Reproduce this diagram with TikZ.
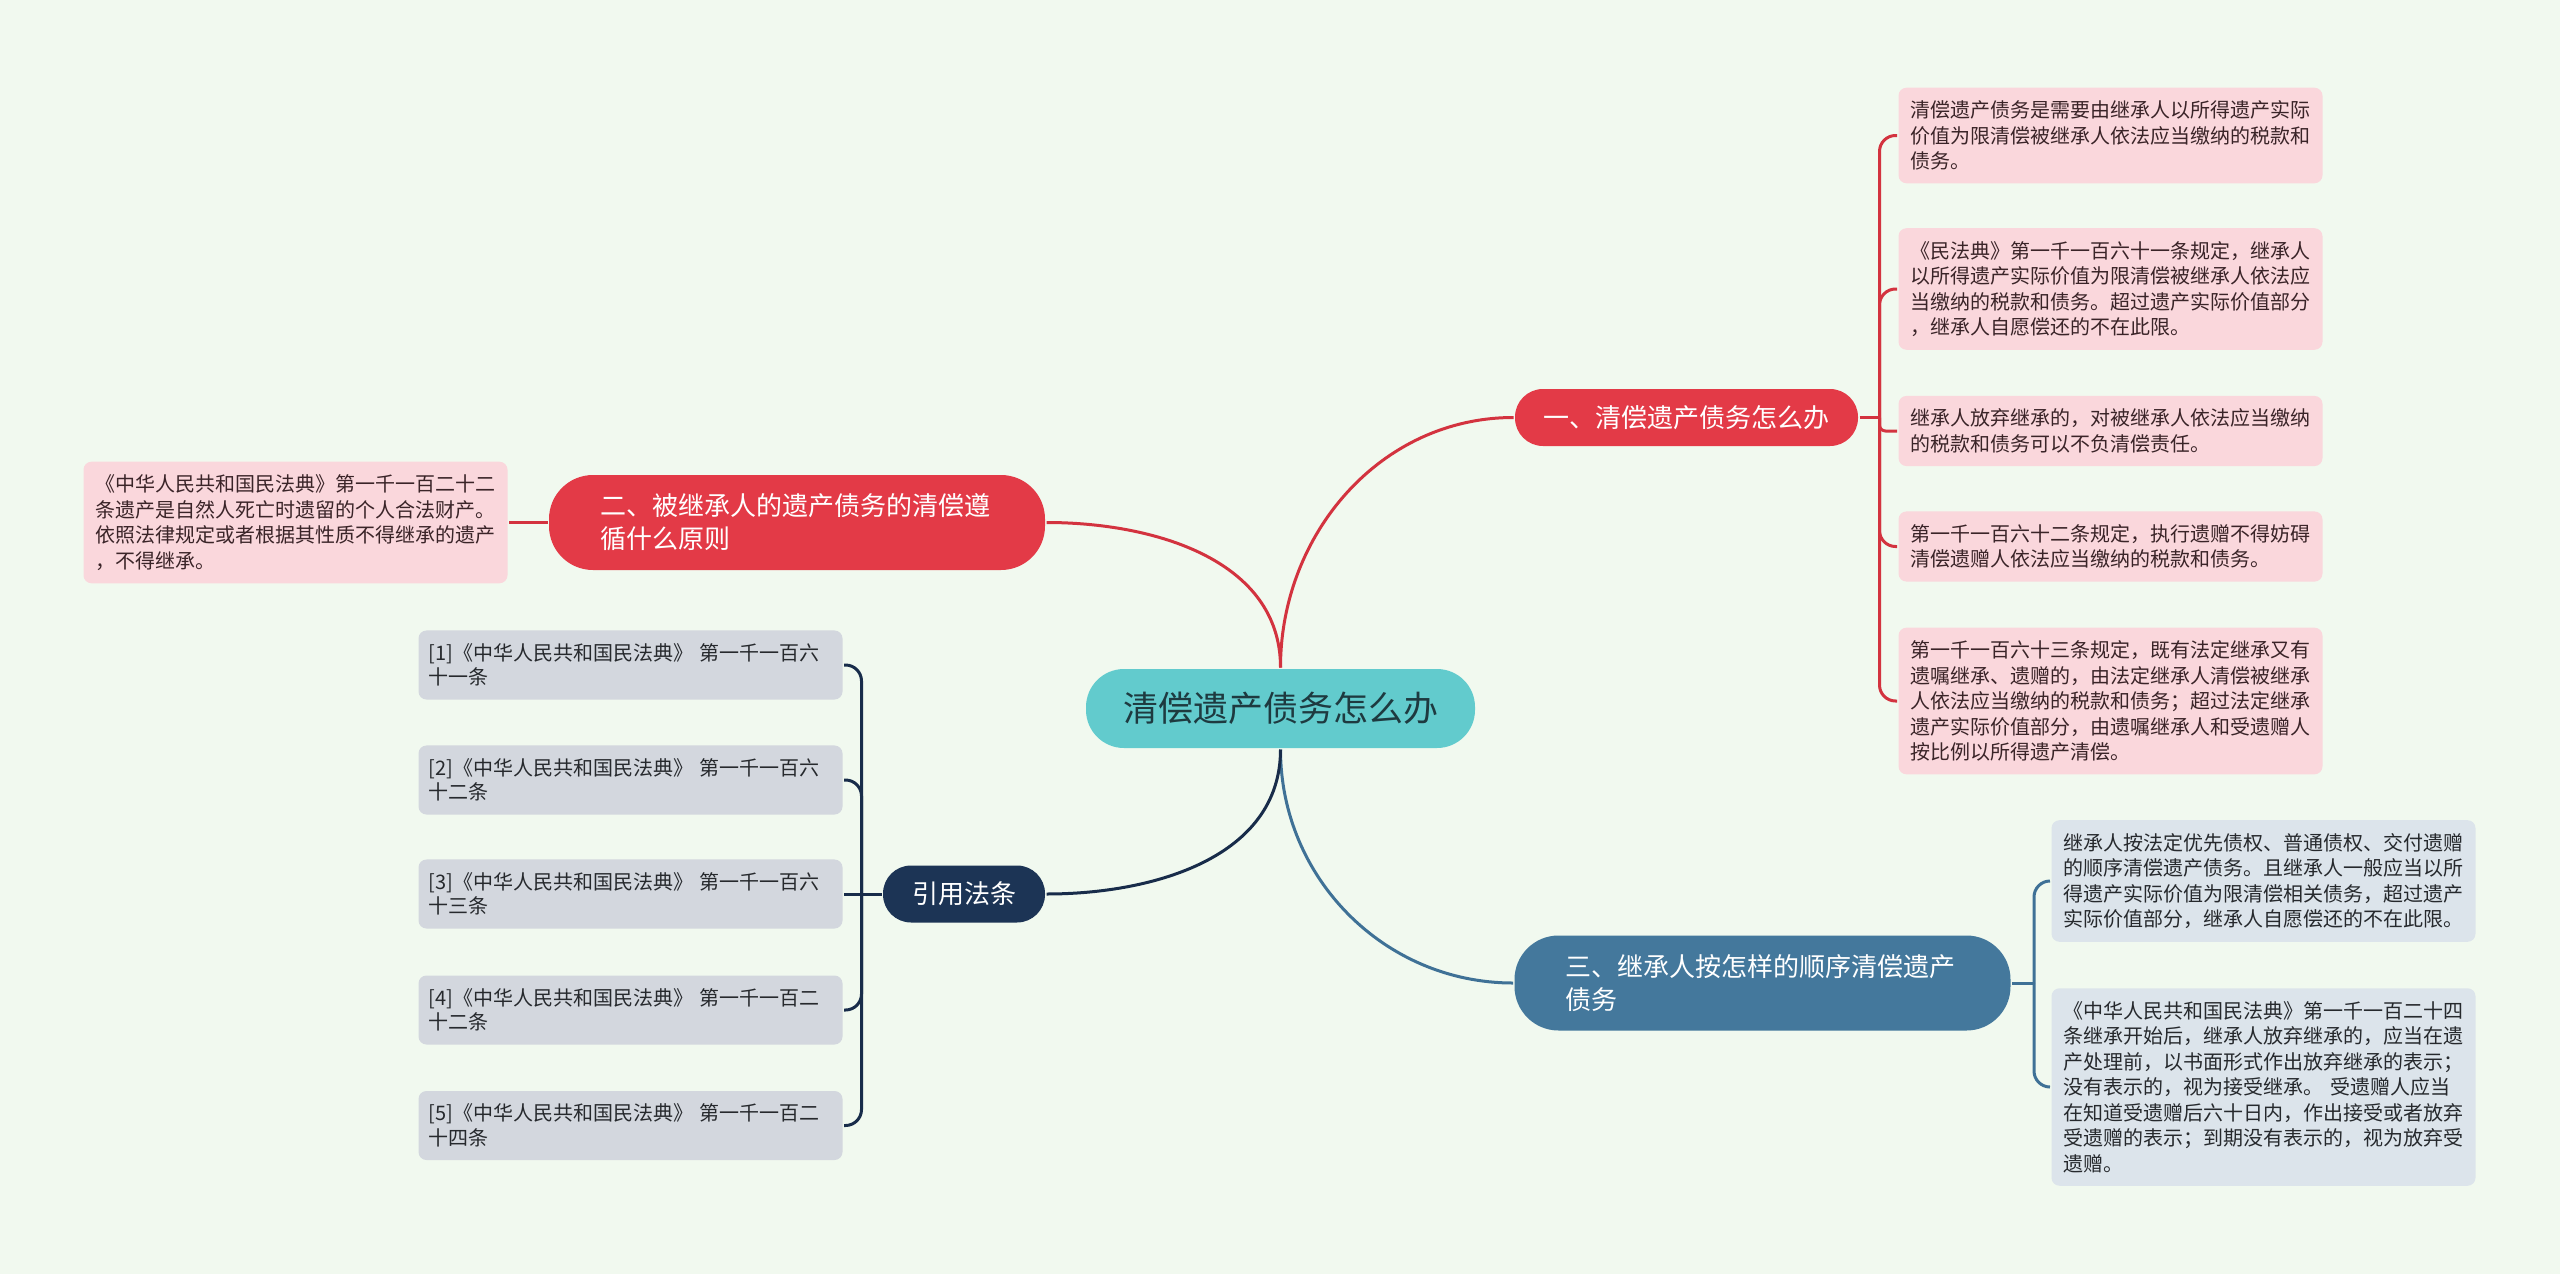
\documentclass[tikz,border=0pt]{standalone}
\usepackage{fontspec}
\setmainfont{Noto Sans CJK SC}

\definecolor{bgmint}{HTML}{F1F9EF}
\definecolor{rootcyan}{HTML}{62CBCD}
\definecolor{roottext}{HTML}{1E3A40}
\definecolor{redfill}{HTML}{E33A47}
\definecolor{redline}{HTML}{D3333F}
\definecolor{steelfill}{HTML}{44789C}
\definecolor{steelline}{HTML}{3F7196}
\definecolor{navyfill}{HTML}{1C3455}
\definecolor{navyline}{HTML}{182C4A}
\definecolor{pinkleaf}{HTML}{FAD7DC}
\definecolor{pinktext}{HTML}{3A2428}
\definecolor{blueleaf}{HTML}{DCE4EB}
\definecolor{grayleaf}{HTML}{D3D7DE}
\definecolor{leaftext}{HTML}{26292D}

\tikzset{every picture/.style={line width=1.5pt}}
\tikzset{
  rootbox/.style={fill=rootcyan, rounded corners=19pt, minimum width=194.5pt, minimum height=39.5pt,
    inner sep=0pt, text=roottext, font=\fontsize{17.5pt}{20pt}\selectfont},
  branchbox/.style={rounded corners=14pt, minimum height=28.5pt, inner sep=0pt, text=white,
    align=left, font=\fontsize{13pt}{16.5pt}\selectfont},
  twoline/.style={rounded corners=22pt, minimum width=248pt, minimum height=47.5pt, text width=197pt},
  leafbox/.style={rounded corners=4pt, inner xsep=6pt, inner ysep=6.5pt, text width=200pt,
    align=left, font=\fontsize{10pt}{12.75pt}\selectfont},
  pinkbox/.style={leafbox, fill=pinkleaf, text=pinktext},
  bluebox/.style={leafbox, fill=blueleaf, text=leaftext},
  graybox/.style={leafbox, fill=grayleaf, text=leaftext, text width=202pt, inner xsep=5pt,
    font=\fontsize{10pt}{12.25pt}\selectfont},
}

\begin{document}
\begin{tikzpicture}[x=0.5pt,y=0.5pt,yscale=-1,xscale=1]
%background, sets the size of the picture
\fill[bgmint] (0,0) rectangle (2560,1274);
\useasboundingbox (0,0) rectangle (2560,1274);

% Root
\draw (1280.5,708.5) node [rootbox] (root) {清偿遗产债务怎么办};

% Branch nodes
\draw (1686.5,417.5) node [branchbox, fill=redfill, minimum width=171.5pt] (one) {一、清偿遗产债务怎么办};
\draw (797,522.5) node [branchbox, twoline, fill=redfill] (two) {二、被继承人的遗产债务的清偿遵\\循什么原则};
\draw (1762.5,983) node [branchbox, twoline, fill=steelfill] (three) {三、继承人按怎样的顺序清偿遗产\\债务};
\draw (964,894) node [branchbox, fill=navyfill, minimum width=81pt] (cite) {引用法条};

% Text Node
\draw (1897,135.5) node [anchor=west, pinkbox] (oneA) {清偿遗产债务是需要由继承人以所得遗产实际\\价值为限清偿被继承人依法应当缴纳的税款和\\债务。};
% Text Node
\draw (1897,289) node [anchor=west, pinkbox] (oneB) {《民法典》第一千一百六十一条规定，继承人\\以所得遗产实际价值为限清偿被继承人依法应\\当缴纳的税款和债务。超过遗产实际价值部分\\，继承人自愿偿还的不在此限。};
% Text Node
\draw (1897,431) node [anchor=west, pinkbox] (oneC) {继承人放弃继承的，对被继承人依法应当缴纳\\的税款和债务可以不负清偿责任。};
% Text Node
\draw (1897,546.5) node [anchor=west, pinkbox] (oneD) {第一千一百六十二条规定，执行遗赠不得妨碍\\清偿遗赠人依法应当缴纳的税款和债务。};
% Text Node
\draw (1897,701) node [anchor=west, pinkbox] (oneE) {第一千一百六十三条规定，既有法定继承又有\\遗嘱继承、遗赠的，由法定继承人清偿被继承\\人依法应当缴纳的税款和债务；超过法定继承\\遗产实际价值部分，由遗嘱继承人和受遗赠人\\按比例以所得遗产清偿。};
% Text Node
\draw (509,522.5) node [anchor=east, pinkbox] (twoA) {《中华人民共和国民法典》第一千一百二十二\\条遗产是自然人死亡时遗留的个人合法财产。\\依照法律规定或者根据其性质不得继承的遗产\\，不得继承。};
% Text Node
\draw (2050,881) node [anchor=west, bluebox] (threeA) {继承人按法定优先债权、普通债权、交付遗赠\\的顺序清偿遗产债务。且继承人一般应当以所\\得遗产实际价值为限清偿相关债务，超过遗产\\实际价值部分，继承人自愿偿还的不在此限。};
% Text Node
\draw (2050,1087) node [anchor=west, bluebox] (threeB) {《中华人民共和国民法典》第一千一百二十四\\条继承开始后，继承人放弃继承的，应当在遗\\产处理前，以书面形式作出放弃继承的表示；\\没有表示的，视为接受继承。 受遗赠人应当\\在知道受遗赠后六十日内，作出接受或者放弃\\受遗赠的表示；到期没有表示的，视为放弃受\\遗赠。};
% Text Node
\draw (844,665) node [anchor=east, graybox] (citeA) {[1]《中华人民共和国民法典》 第一千一百六\\十一条};
% Text Node
\draw (844,780) node [anchor=east, graybox] (citeB) {[2]《中华人民共和国民法典》 第一千一百六\\十二条};
% Text Node
\draw (844,894) node [anchor=east, graybox] (citeC) {[3]《中华人民共和国民法典》 第一千一百六\\十三条};
% Text Node
\draw (844,1010) node [anchor=east, graybox] (citeD) {[4]《中华人民共和国民法典》 第一千一百二\\十二条};
% Text Node
\draw (844,1125.5) node [anchor=east, graybox] (citeE) {[5]《中华人民共和国民法典》 第一千一百二\\十四条};

% Connection root -> branches
\draw [redline] (root.north) to[out=-90,in=180] (one.west);
\draw [redline] (root.north) to[out=-90,in=0] (two.east);
\draw [steelline] (root.south) to[out=90,in=180] (three.west);
\draw [navyline] (root.south) to[out=90,in=0] (cite.east);

% Connection branch one -> leaves
\path (one.east) ++(20,0) coordinate (jOne);
\draw [redline] (one.east) -- (jOne);
\draw [redline, rounded corners=8pt] (jOne) |- (oneA.west);
\draw [redline, rounded corners=8pt] (jOne) |- (oneB.west);
\draw [redline, rounded corners=3pt] (jOne) |- (oneC.west);
\draw [redline, rounded corners=8pt] (jOne) |- (oneD.west);
\draw [redline, rounded corners=8pt] (jOne) |- (oneE.west);
% Connection branch two -> leaf
\draw [redline] (two.west) -- (twoA.east);
% Connection branch three -> leaves
\path (three.east) ++(22,0) coordinate (jThree);
\draw [steelline] (three.east) -- (jThree);
\draw [steelline, rounded corners=8pt] (jThree) |- (threeA.west);
\draw [steelline, rounded corners=8pt] (jThree) |- (threeB.west);
% Connection cite -> leaves
\path (cite.west) ++(-20,0) coordinate (jCite);
\draw [navyline] (cite.west) -- (citeC.east);
\draw [navyline, rounded corners=8pt] (jCite) |- (citeA.east);
\draw [navyline, rounded corners=8pt] (jCite) |- (citeB.east);
\draw [navyline, rounded corners=8pt] (jCite) |- (citeD.east);
\draw [navyline, rounded corners=8pt] (jCite) |- (citeE.east);

\end{tikzpicture}
\end{document}
